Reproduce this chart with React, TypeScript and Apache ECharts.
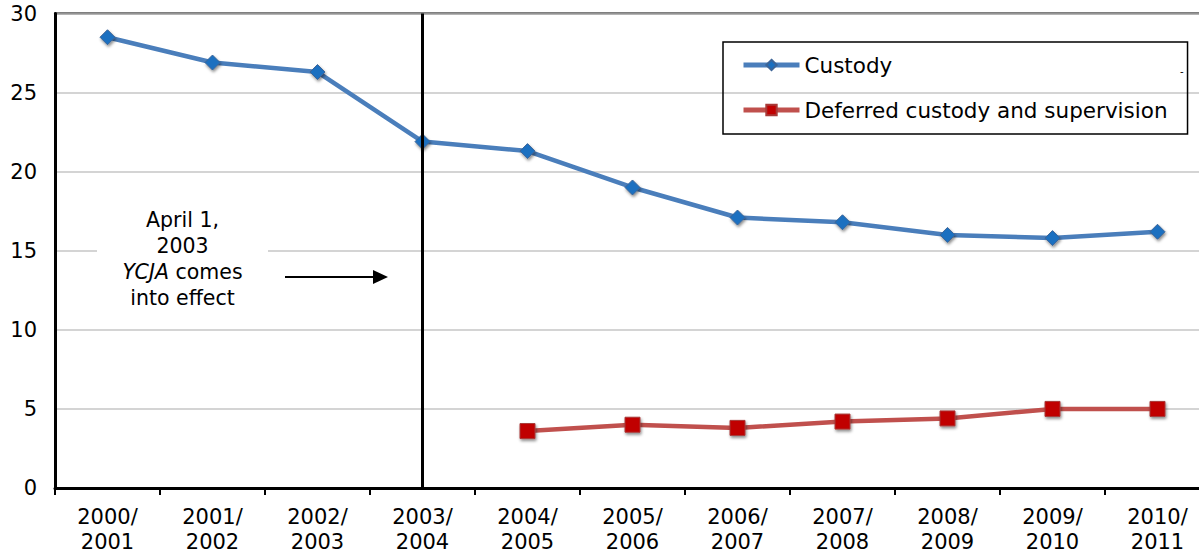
import React, { useEffect, useRef } from "react";
import * as echarts from "echarts";

const categories = [
  "2000/\n2001",
  "2001/\n2002",
  "2002/\n2003",
  "2003/\n2004",
  "2004/\n2005",
  "2005/\n2006",
  "2006/\n2007",
  "2007/\n2008",
  "2008/\n2009",
  "2009/\n2010",
  "2010/\n2011",
];

const custody = [28.5, 26.9, 26.3, 21.9, 21.3, 19.0, 17.1, 16.8, 16.0, 15.8, 16.2];
const deferred = [null, null, null, null, 3.6, 4.0, 3.8, 4.2, 4.4, 5.0, 5.0];

const yTicks = { min: 0, max: 30, interval: 5 };
const enactmentYear = "2003/\n2004";

const FONT = "DejaVu Sans";

export default function App() {
  const ref = useRef<HTMLDivElement>(null);

  useEffect(() => {
    if (!ref.current) return;
    const chart = echarts.init(ref.current, null, { renderer: "svg" });
    const markerShadow = {
      shadowBlur: 3,
      shadowColor: "rgba(0,0,0,0.45)",
      shadowOffsetX: 1,
      shadowOffsetY: 2,
    };
    chart.setOption({
      animation: false,
      backgroundColor: "#fff",
      textStyle: { fontFamily: FONT },
      grid: {
        left: 55,
        right: 0,
        top: 13.5,
        bottom: 68,
        show: true,
        borderColor: "#000",
        borderWidth: 2,
        backgroundColor: "transparent",
      },
      legend: {
        orient: "vertical",
        left: 723,
        top: 42,
        padding: [11, 20, 12, 18],
        itemGap: 21,
        itemWidth: 56,
        itemHeight: 13,
        borderColor: "#000",
        borderWidth: 1.5,
        lineStyle: { width: 5 },
        textStyle: { fontFamily: FONT, fontSize: 21.5, color: "#000", lineHeight: 24 },
        data: ["Custody", "Deferred custody and supervision"],
      },
      xAxis: {
        type: "category",
        data: categories,
        boundaryGap: true,
        axisLine: { lineStyle: { color: "#000", width: 3 } },
        axisTick: { show: true, length: 7, lineStyle: { color: "#000", width: 2 } },
        axisLabel: {
          fontFamily: FONT,
          fontSize: 21,
          color: "#000",
          lineHeight: 25,
          margin: 16,
          interval: 0,
        },
        splitLine: { show: false },
      },
      yAxis: {
        type: "value",
        min: yTicks.min,
        max: yTicks.max,
        interval: yTicks.interval,
        axisLine: { show: true, lineStyle: { color: "#000", width: 3 } },
        axisTick: { show: false },
        axisLabel: { fontFamily: FONT, fontSize: 21, color: "#000", margin: 18 },
        splitLine: { show: true, lineStyle: { color: "#c6c6c6", width: 1.5 } },
      },
      series: [
        {
          name: "Custody",
          type: "line",
          data: custody,
          symbol: "diamond",
          symbolSize: 15,
          lineStyle: { color: "#4a7ebb", width: 4.5 },
          itemStyle: {
            color: "#1a6fc0",
            borderColor: "#3d6597",
            borderWidth: 1,
            ...markerShadow,
          },
          z: 3,
          markLine: {
            silent: true,
            symbol: "none",
            label: { show: false },
            lineStyle: { color: "#000", width: 3, type: "solid" },
            data: [{ xAxis: enactmentYear }],
          },
        },
        {
          name: "Deferred custody and supervision",
          type: "line",
          data: deferred,
          symbol: "rect",
          symbolSize: 15,
          lineStyle: { color: "#c0504d", width: 4.5 },
          itemStyle: {
            color: "#c00000",
            borderColor: "#a83a38",
            borderWidth: 1,
            ...markerShadow,
          },
          z: 3,
        },
      ],
      graphic: [
        {
          type: "rect",
          z: 10,
          shape: { x: 97, y: 207, width: 171, height: 104 },
          style: { fill: "#fff" },
        },
        {
          type: "text",
          z: 11,
          x: 182.5,
          y: 207,
          style: {
            text: "April 1,\n2003\n{i|YCJA} comes\ninto effect",
            fontFamily: FONT,
            fontSize: 20.5,
            lineHeight: 26,
            fill: "#000",
            align: "center",
            verticalAlign: "top",
            rich: {
              i: {
                fontFamily: FONT,
                fontSize: 20.5,
                fontStyle: "italic",
                lineHeight: 26,
                fill: "#000",
              },
            },
          },
        },
        {
          type: "line",
          z: 11,
          shape: { x1: 285, y1: 277, x2: 376, y2: 277 },
          style: { stroke: "#000", lineWidth: 2 },
        },
        {
          type: "polygon",
          z: 11,
          shape: { points: [[373, 270], [388, 277], [373, 284]] },
          style: { fill: "#000" },
        },
        {
          type: "text",
          z: 11,
          x: 1180,
          y: 66,
          style: { text: "-", fontFamily: FONT, fontSize: 10, fill: "#000" },
        },
      ],
    });
    return () => chart.dispose();
  }, []);

  return (
    <div
      style={{
        position: "fixed",
        left: 0,
        top: 0,
        width: 1199,
        height: 556,
        overflow: "hidden",
        background: "#fff",
      }}
    >
      <div ref={ref} style={{ width: 1210, height: 556 }} />
    </div>
  );
}
